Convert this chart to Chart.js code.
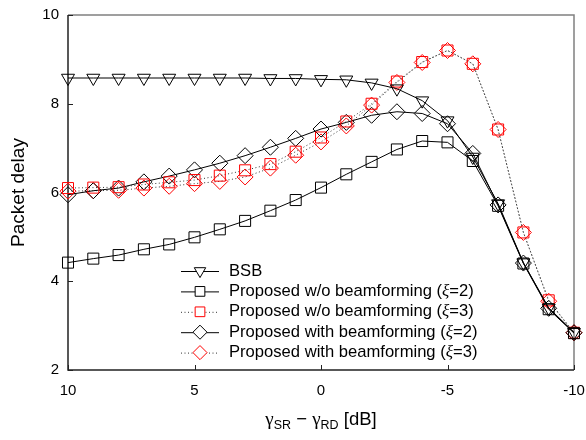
<!DOCTYPE html>
<html><head><meta charset="utf-8">
<script src="https://cdn.jsdelivr.net/npm/chart.js@4"></script>
<style>html,body{margin:0;padding:0;background:#fff}#wrap{width:586px;height:440px}</style>
</head><body><div id="wrap"><canvas id="c" width="586" height="440"></canvas></div>
<script>
const xValues = [10,9,8,7,6,5,4,3,2,1,0,-1,-2,-3,-4,-5,-6,-7,-8,-9,-10];
const bsb      = [8.58,8.58,8.58,8.58,8.58,8.58,8.58,8.58,8.57,8.57,8.55,8.54,8.47,8.34,8.07,7.62,6.80,5.75,4.42,3.40,2.85];
const woXi2    = [4.42,4.51,4.59,4.72,4.83,4.99,5.17,5.36,5.59,5.83,6.11,6.41,6.69,6.97,7.16,7.13,6.71,5.70,4.40,3.37,2.83];
const woXi3    = [6.10,6.11,6.12,6.18,6.23,6.28,6.38,6.50,6.64,6.92,7.24,7.60,8.00,8.50,8.94,9.20,8.90,7.42,5.10,3.57,2.84];
const withXi2  = [5.95,6.04,6.10,6.24,6.37,6.51,6.66,6.83,7.02,7.22,7.43,7.58,7.74,7.82,7.78,7.55,6.88,5.72,4.41,3.39,2.84];
const withXi3  = [6.03,6.04,6.05,6.10,6.14,6.20,6.25,6.35,6.55,6.84,7.14,7.50,7.97,8.48,8.93,9.20,8.90,7.42,5.10,3.55,2.84];
const seriesNames = ['BSB','Proposed w/o beamforming (ξ=2)','Proposed w/o beamforming (ξ=3)','Proposed with beamforming (ξ=2)','Proposed with beamforming (ξ=3)'];
const xTicks = [10,5,0,-5,-10];
const yTicks = [2,4,6,8,10];
const yTitle = 'Packet delay';

const FONT = '"Liberation Sans", Arial, sans-serif';
const pts = arr => arr.map((y,i)=>({x:xValues[i], y}));

function ds(label, data, style, radius, rot, pcolor, dashed){
  return {label, data: pts(data), borderColor: dashed ? '#333' : '#000', borderWidth: 1,
    borderDash: dashed ? [1,2.5] : [], pointStyle: style, pointRadius: radius, pointRotation: rot,
    pointBorderColor: pcolor, pointBackgroundColor: 'rgba(0,0,0,0)', pointBorderWidth: 1,
    pointHoverRadius: radius, tension: 0, fill: false, clip: false};
}

const datasets = [
  ds(seriesNames[0], bsb, 'triangle', 7.5, 180, '#000', false),
  ds(seriesNames[1], woXi2, 'rect', 7.8, 0, '#000', false),
  ds(seriesNames[2], woXi3, 'rect', 7.8, 0, '#ff0000', true),
  ds(seriesNames[3], withXi2, 'rectRot', 8, 0, '#000', false),
  ds(seriesNames[4], withXi3, 'rectRot', 8, 0, '#ff0000', true),
];

const framePlugin = {
  id: 'frame',
  beforeDatasetsDraw(chart){
    const {ctx, chartArea: a, scales:{x, y}} = chart;
    ctx.save();
    ctx.lineWidth = 1.5;
    ctx.strokeStyle = '#808080';
    ctx.beginPath();
    ctx.moveTo(a.left, a.top); ctx.lineTo(a.right, a.top); ctx.lineTo(a.right, a.bottom);
    ctx.stroke();
    ctx.strokeStyle = '#222';
    ctx.beginPath();
    ctx.moveTo(a.left, a.top); ctx.lineTo(a.left, a.bottom); ctx.lineTo(a.right, a.bottom);
    ctx.stroke();
    ctx.lineWidth = 1;
    ctx.beginPath();
    x.ticks.forEach(t => { const px = Math.round(x.getPixelForValue(t.value))+0.5; ctx.moveTo(px, a.bottom); ctx.lineTo(px, a.bottom-5); });
    y.ticks.forEach(t => { const py = Math.round(y.getPixelForValue(t.value))+0.5; ctx.moveTo(a.left, py); ctx.lineTo(a.left+5, py); });
    ctx.stroke();
    ctx.restore();
  },
  afterDraw(chart){
    const {ctx, chartArea: a} = chart;
    ctx.save();
    // legend
    const lx0 = 181, lx1 = 219, tx = 229, ty0 = 271, dy = 20.4;
    chart.data.datasets.forEach((d, i) => {
      const yy = ty0 + i*dy;
      ctx.strokeStyle = d.borderColor; ctx.lineWidth = 1; ctx.setLineDash(d.borderDash);
      ctx.beginPath(); ctx.moveTo(lx0, yy+0.5); ctx.lineTo(lx1, yy+0.5); ctx.stroke();
      ctx.setLineDash([]);
      ctx.strokeStyle = d.pointBorderColor; ctx.fillStyle = '#fff';
      Chart.helpers.drawPoint(ctx, {pointStyle: d.pointStyle, rotation: d.pointRotation, radius: d.pointRadius*0.88, borderWidth: 1}, (lx0+lx1)/2, yy);
      ctx.fillStyle = '#000'; ctx.textBaseline = 'middle'; ctx.textAlign = 'left';
      const parts = d.label.split('ξ');
      let cx = tx;
      ctx.font = '16.6px ' + FONT;
      ctx.fillText(parts[0], cx, yy); cx += ctx.measureText(parts[0]).width;
      if (parts.length > 1){
        ctx.font = 'italic 17px "Liberation Serif", serif';
        ctx.fillText('ξ', cx, yy); cx += ctx.measureText('ξ').width;
        ctx.font = '16.6px ' + FONT;
        ctx.fillText(parts[1], cx, yy);
      }
    });
    // x title with subscripts
    const segs = [['γ','g'],['SR','s'],[' − ','n'],['γ','g'],['RD','s'],[' [dB]','n']];
    const fontOf = k => k==='g' ? '19px "Liberation Serif", serif' : (k==='s' ? '12.5px '+FONT : '18.5px '+FONT);
    let w = 0;
    segs.forEach(([s,k]) => { ctx.font = fontOf(k); w += ctx.measureText(s).width; });
    let cx = (a.left + a.right)/2 - w/2;
    ctx.textBaseline = 'alphabetic'; ctx.textAlign = 'left'; ctx.fillStyle = '#000';
    segs.forEach(([s,k]) => { ctx.font = fontOf(k); ctx.fillText(s, cx, k==='s' ? 429 : 425); cx += ctx.measureText(s).width; });
    // y title
    ctx.translate(24, (a.top + a.bottom)/2);
    ctx.rotate(-Math.PI/2);
    ctx.font = '19px ' + FONT; ctx.textAlign = 'center'; ctx.textBaseline = 'alphabetic';
    ctx.fillText(yTitle, 0, 0);
    ctx.restore();
  }
};

new Chart(document.getElementById('c'), {
  type: 'line',
  data: { datasets },
  options: {
    responsive: false, animation: false, devicePixelRatio: 1,
    layout: { padding: { top: 15, right: 12, left: 0, bottom: 0 } },
    plugins: { legend: { display: false }, tooltip: { enabled: false } },
    scales: {
      x: { type: 'linear', reverse: true, min: -10, max: 10,
        afterBuildTicks: s => { s.ticks = xTicks.map(v => ({value: v})); },
        afterFit: s => { s.height = 70; s.paddingLeft = 0; s.paddingRight = 0; },
        grid: { display: false, drawTicks: false }, border: { display: false },
        ticks: { autoSkip: false, maxRotation: 0, padding: 12, color: '#000', font: { size: 15, family: FONT }, callback: v => String(v) } },
      y: { type: 'linear', min: 2, max: 10,
        afterBuildTicks: s => { s.ticks = yTicks.map(v => ({value: v})); },
        afterFit: s => { s.width = 68; s.paddingTop = 0; s.paddingBottom = 0; },
        grid: { display: false, drawTicks: false }, border: { display: false },
        ticks: { padding: 9, color: '#000', font: { size: 15, family: FONT }, callback: v => String(v) } }
    }
  },
  plugins: [framePlugin]
});
</script></body></html>
